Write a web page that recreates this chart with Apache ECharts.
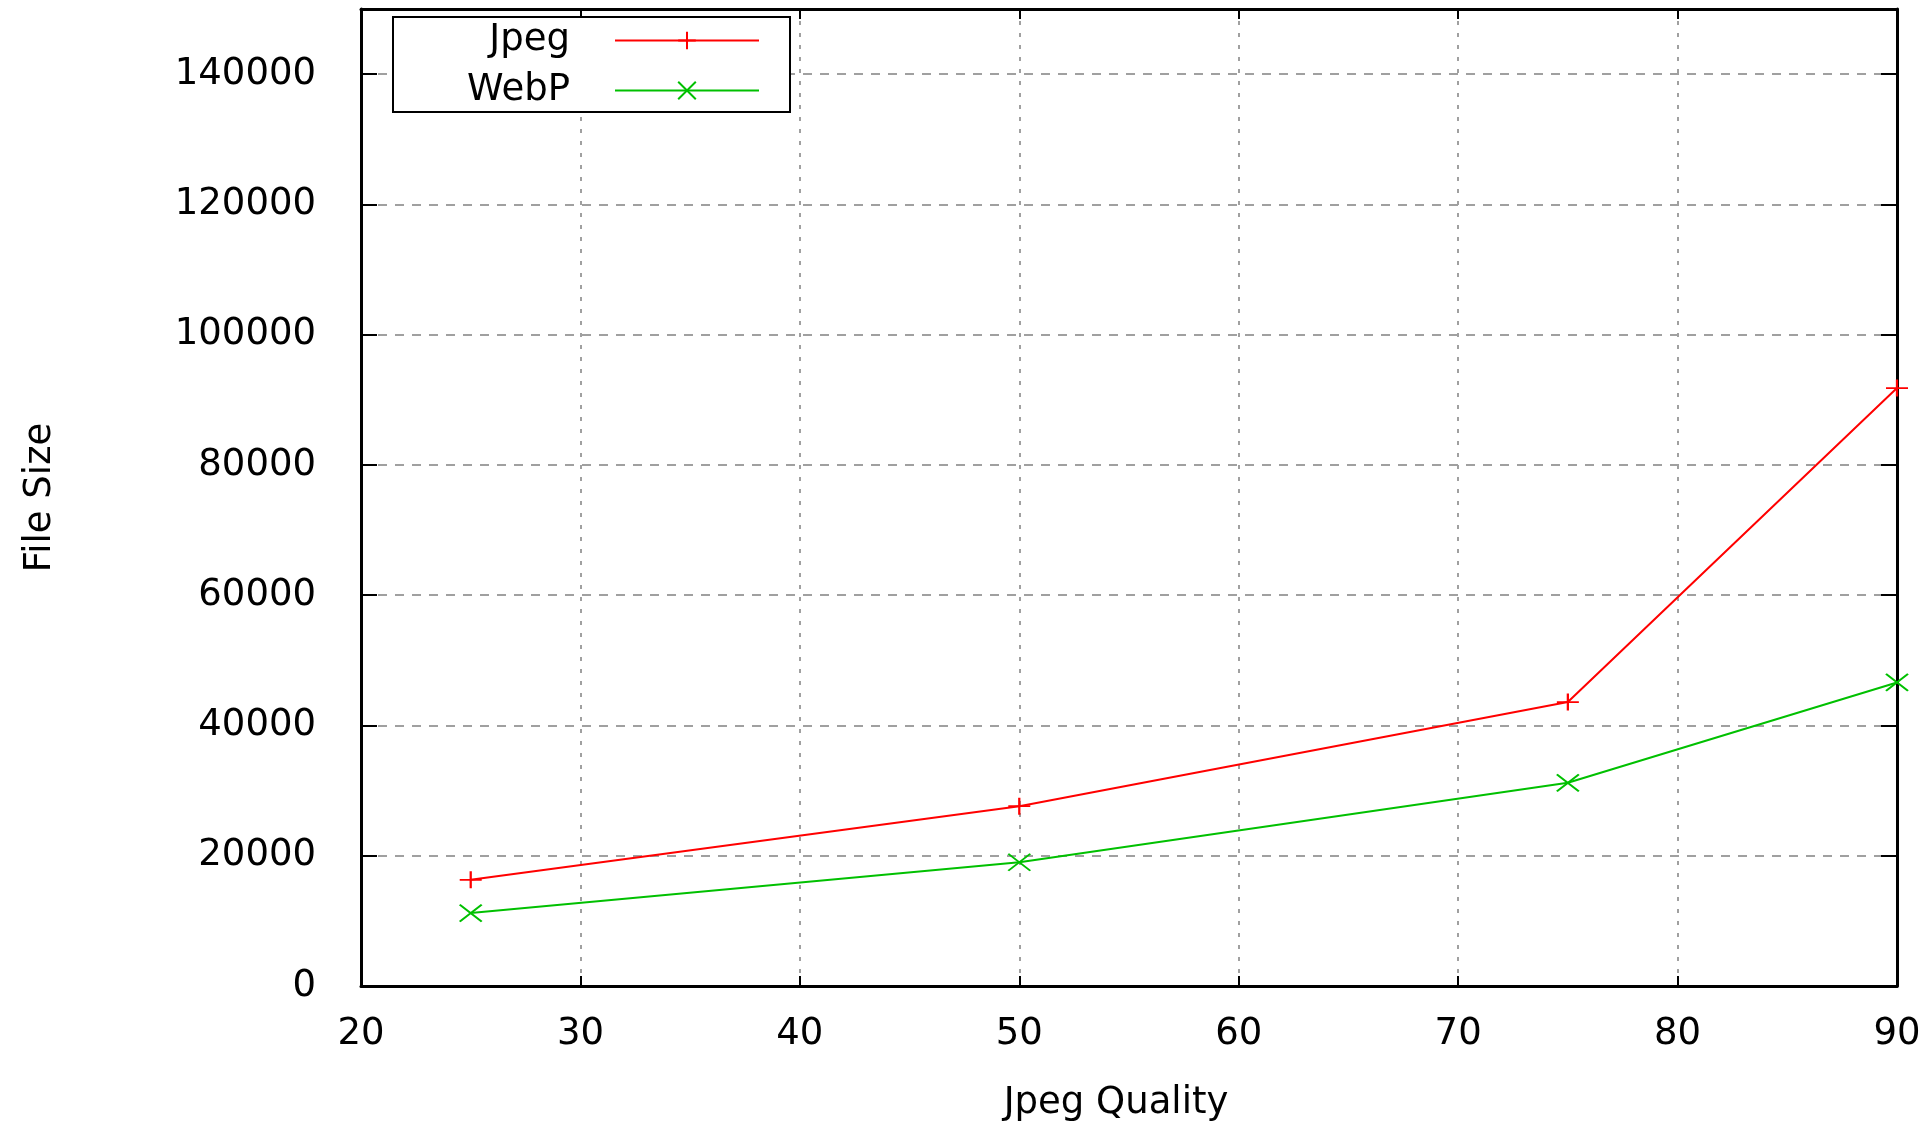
<!DOCTYPE html>
<html>
<head>
<meta charset="utf-8">
<script src="https://cdn.jsdelivr.net/npm/echarts@6/dist/echarts.min.js"></script>
<style>
  html, body { margin: 0; padding: 0; background: #fff; }
  #chart { width: 1930px; height: 1123px; }
</style>
</head>
<body>
<div id="chart"></div>
<script>
// ---- data ----
const quality = [25, 50, 75, 90];
const jpegSize = [16300, 27600, 43600, 91800];
const webpSize = [11200, 19000, 31200, 46600];
const seriesNames = ['Jpeg', 'WebP'];
const xTitle = 'Jpeg Quality';
const yTitle = 'File Size';

const FONT = 'DejaVu Sans';
const FS = 37;
const plusPath = 'path://M5,0 L5,10 M0,5 L10,5';
const crossPath = 'path://M0,0 L10,10 M10,0 L0,10';

const chart = echarts.init(document.getElementById('chart'), null, { renderer: 'canvas' });

const axisLineStyle = { color: '#000', width: 3 };

chart.setOption({
  animation: false,
  backgroundColor: '#fff',
  grid: { left: 361, right: 33, top: 9, bottom: 137, containLabel: false, outerBoundsMode: 'none' },
  legend: {
    left: 393, top: 17,
    orient: 'vertical',
    align: 'right',
    itemWidth: 144, itemHeight: 22, itemGap: 13,
    padding: [5, 30, 3, 27],
    borderColor: '#000', borderWidth: 2, borderRadius: 0,
    backgroundColor: '#fff',
    data: seriesNames,
    formatter: n => '{t|' + n + '}{g|}',
    textStyle: {
      fontFamily: FONT, fontSize: FS, color: '#000',
      rich: {
        t: { width: 150, align: 'right', fontFamily: FONT, fontSize: FS, color: '#000', lineHeight: 26 },
        g: { width: 40, lineHeight: 26 }
      }
    }
  },
  xAxis: [{
    type: 'value', min: 20, max: 90, interval: 10, position: 'bottom',
    name: xTitle, nameLocation: 'middle', nameGap: 99,
    nameTextStyle: { fontFamily: FONT, fontSize: FS, color: '#000', padding: [0, 26, 0, 0] },
    axisLine: { show: true, onZero: false, lineStyle: axisLineStyle },
    axisTick: { show: true, inside: true, length: 10, lineStyle: { color: '#000', width: 2 } },
    axisLabel: { margin: 30, fontFamily: FONT, fontSize: FS, color: '#000' },
    splitLine: { show: true, lineStyle: { color: '#a0a0a0', width: 2, type: [4, 8] } }
  }, {
    type: 'value', min: 20, max: 90, interval: 10, position: 'top',
    axisLine: { show: true, onZero: false, lineStyle: axisLineStyle },
    axisTick: { show: true, inside: true, length: 10, lineStyle: { color: '#000', width: 2 } },
    axisLabel: { show: false },
    splitLine: { show: false }
  }],
  yAxis: [{
    type: 'value', min: 0, max: 150000, interval: 20000, position: 'left',
    name: yTitle, nameLocation: 'middle', nameGap: 302, nameRotate: 90,
    nameTextStyle: { fontFamily: FONT, fontSize: FS, color: '#000' },
    axisLine: { show: true, onZero: false, lineStyle: axisLineStyle },
    axisTick: { show: true, inside: true, length: 16, lineStyle: { color: '#000', width: 2 } },
    axisLabel: { margin: 45, fontFamily: FONT, fontSize: FS, color: '#000', showMaxLabel: false,
                 formatter: v => String(v) },
    splitLine: { show: true, lineStyle: { color: '#a0a0a0', width: 2, type: [9, 8] } }
  }, {
    type: 'value', min: 0, max: 150000, interval: 20000, position: 'right',
    axisLine: { show: true, onZero: false, lineStyle: axisLineStyle },
    axisTick: { show: true, inside: true, length: 16, lineStyle: { color: '#000', width: 2 } },
    axisLabel: { show: false },
    splitLine: { show: false }
  }],
  series: [{
    name: seriesNames[0], type: 'line', xAxisIndex: 0, yAxisIndex: 0,
    data: quality.map((q, i) => [q, jpegSize[i]]),
    symbol: plusPath, symbolSize: [22, 17], showSymbol: true,
    lineStyle: { color: '#ff0000', width: 2 },
    itemStyle: { color: '#ff0000', borderColor: '#ff0000', borderWidth: 2 },
    emphasis: { disabled: true }
  }, {
    name: seriesNames[1], type: 'line', xAxisIndex: 0, yAxisIndex: 0,
    data: quality.map((q, i) => [q, webpSize[i]]),
    symbol: crossPath, symbolSize: [22, 17], showSymbol: true,
    lineStyle: { color: '#00c000', width: 2 },
    itemStyle: { color: '#00c000', borderColor: '#00c000', borderWidth: 2 },
    emphasis: { disabled: true }
  }]
});
</script>
</body>
</html>
